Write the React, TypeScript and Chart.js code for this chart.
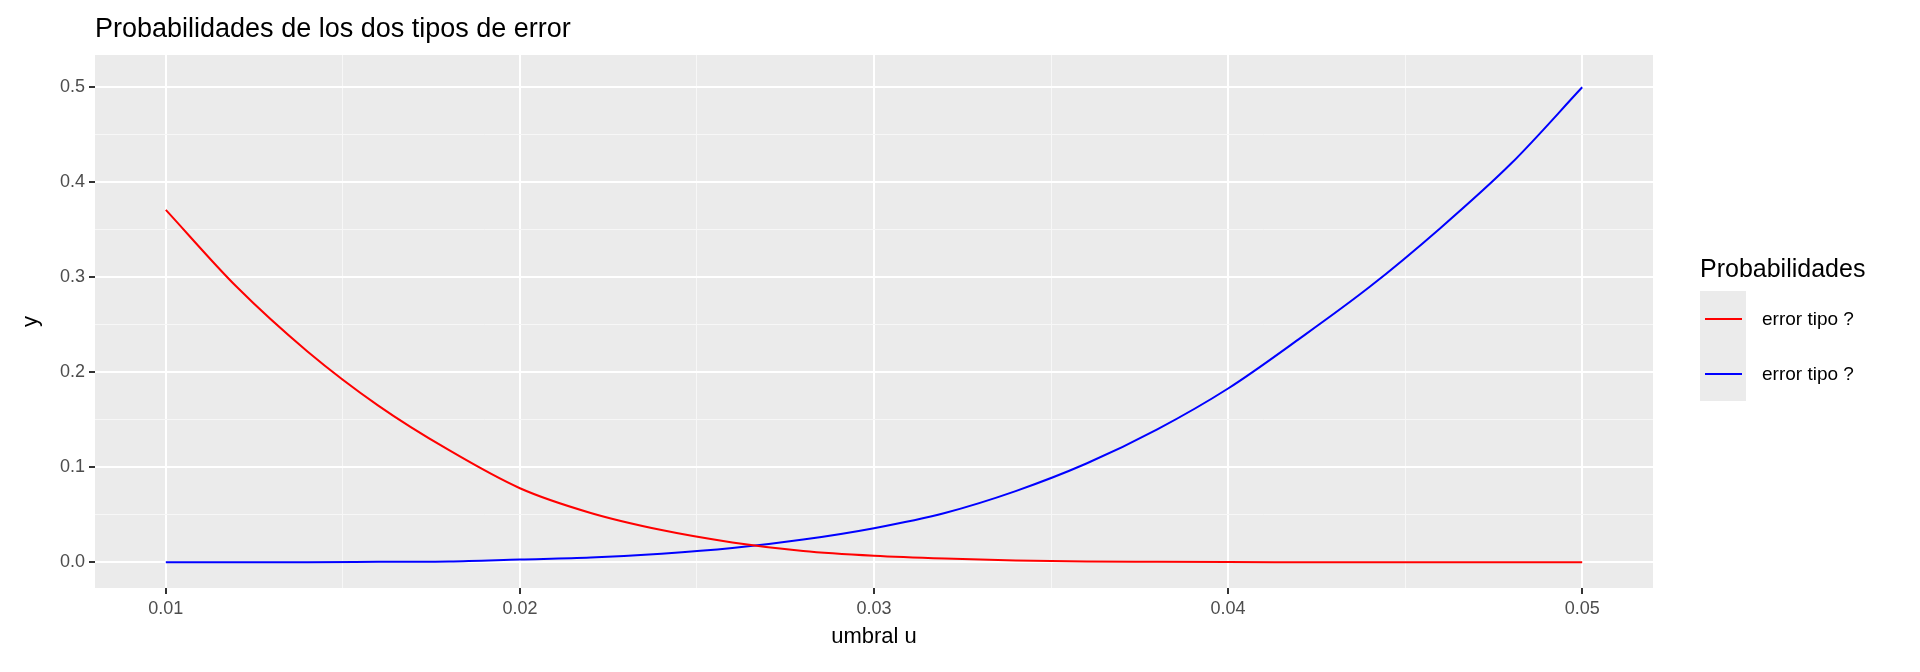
import React, { useEffect, useRef } from 'react';
import { Chart, registerables } from 'chart.js';

Chart.register(...registerables);

const umbral = [0.01, 0.012, 0.014, 0.016, 0.018, 0.02, 0.022, 0.024, 0.026, 0.028, 0.03, 0.032, 0.034, 0.036, 0.038, 0.04, 0.042, 0.044, 0.046, 0.048, 0.05];
const errorRojo = [0.371, 0.29, 0.222, 0.165, 0.118, 0.078, 0.052, 0.034, 0.021, 0.012, 0.007, 0.004, 0.002, 0.001, 0.0006, 0.0003, 0.0001, 0, 0, 0, 0];
const errorAzul = [0, 0, 0, 0.0005, 0.001, 0.003, 0.005, 0.009, 0.015, 0.024, 0.036, 0.052, 0.075, 0.104, 0.14, 0.183, 0.235, 0.29, 0.352, 0.42, 0.5];
const xTicks = [0.01, 0.015, 0.02, 0.025, 0.03, 0.035, 0.04, 0.045, 0.05];
const yTicks = [0, 0.05, 0.1, 0.15, 0.2, 0.25, 0.3, 0.35, 0.4, 0.45, 0.5];
const legendLabels = ['error tipo ?', 'error tipo ?'];
const colores = ['#ff0000', '#0000ff'];

const isMajor = (v: number, step: number) => Math.abs(Math.round(v / step) * step - v) < 1e-9;

const fondo = {
  id: 'fondo',
  beforeDraw(chart: Chart) {
    const { ctx, chartArea: a } = chart;
    ctx.save();
    ctx.fillStyle = '#ebebeb';
    ctx.fillRect(a.left, a.top, a.right - a.left, a.bottom - a.top);
    ctx.fillStyle = '#000';
    ctx.font = '27px "Liberation Sans", Arial, sans-serif';
    ctx.textBaseline = 'middle';
    ctx.fillText('Probabilidades de los dos tipos de error', 95, 30);
    ctx.restore();
  },
};

const App = () => {
  const ref = useRef<HTMLCanvasElement | null>(null);

  useEffect(() => {
    document.body.style.margin = '0';
    const pts = (ys: number[]) => umbral.map((x, i) => ({ x, y: ys[i] }));
    const gridColor = (step: number) => (c: any) => (isMajor(c.tick.value, step) ? '#ffffff' : '#f7f7f7');
    const gridWidth = (step: number) => (c: any) => (isMajor(c.tick.value, step) ? 2 : 1);
    const tickColor = (step: number) => (c: any) => (isMajor(c.tick.value, step) ? '#333333' : 'rgba(0,0,0,0)');
    const font = { family: '"Liberation Sans", Arial, sans-serif', size: 18 };
    const chart = new Chart(ref.current!, {
      type: 'line',
      data: {
        datasets: [
          { label: legendLabels[0], data: pts(errorRojo), borderColor: colores[0], borderWidth: 2, pointRadius: 0, cubicInterpolationMode: 'monotone' },
          { label: legendLabels[1], data: pts(errorAzul), borderColor: colores[1], borderWidth: 2, pointRadius: 0, cubicInterpolationMode: 'monotone' },
        ],
      },
      options: {
        animation: false,
        responsive: false,
        layout: { padding: { left: 14, right: 267, top: 55, bottom: 18 } },
        plugins: { legend: { display: false }, tooltip: { enabled: false } },
        scales: {
          x: {
            type: 'linear',
            min: 0.008,
            max: 0.052,
            afterBuildTicks: (s: any) => { s.ticks = xTicks.map((value) => ({ value })); },
            afterFit: (s: any) => { s.height = 66; },
            border: { display: false },
            grid: { color: gridColor(0.01), lineWidth: gridWidth(0.01), tickColor: tickColor(0.01), tickLength: 6 },
            ticks: {
              color: '#4d4d4d', font, padding: 4, maxRotation: 0, autoSkip: false,
              callback: (v: any) => (isMajor(v, 0.01) ? Number(v).toFixed(2) : ''),
            },
            title: { display: true, text: 'umbral u', color: '#000', font: { ...font, size: 22 }, padding: { top: 2 } },
          },
          y: {
            type: 'linear',
            min: -0.027,
            max: 0.534,
            afterBuildTicks: (s: any) => { s.ticks = yTicks.map((value) => ({ value })); },
            afterFit: (s: any) => { s.width = 81; },
            border: { display: false },
            grid: { color: gridColor(0.1), lineWidth: gridWidth(0.1), tickColor: tickColor(0.1), tickLength: 6 },
            ticks: {
              color: '#4d4d4d', font, padding: 4, autoSkip: false,
              callback: (v: any) => (isMajor(v, 0.1) ? Number(v).toFixed(1) : ''),
            },
            title: { display: true, text: 'y', color: '#000', font: { ...font, size: 22 } },
          },
        },
      },
      plugins: [fondo],
    });
    return () => chart.destroy();
  }, []);

  return (
    <div style={{ position: 'relative', width: 1920, height: 672, fontFamily: '"Liberation Sans", Arial, sans-serif' }}>
      <canvas ref={ref} width={1920} height={672} />
      <div style={{ position: 'absolute', left: 1700, top: 254 }}>
        <div style={{ fontSize: 25, marginBottom: 8 }}>Probabilidades</div>
        <div style={{ display: 'flex' }}>
          <div style={{ background: '#ebebeb', width: 46 }}>
            {colores.map((c) => (
              <div key={c} style={{ height: 55, display: 'flex', alignItems: 'center', justifyContent: 'center' }}>
                <div style={{ width: 37, height: 2, background: c }} />
              </div>
            ))}
          </div>
          <div style={{ marginLeft: 16 }}>
            {legendLabels.map((l, i) => (
              <div key={i} style={{ height: 55, display: 'flex', alignItems: 'center', fontSize: 19 }}>{l}</div>
            ))}
          </div>
        </div>
      </div>
    </div>
  );
};

export default App;
